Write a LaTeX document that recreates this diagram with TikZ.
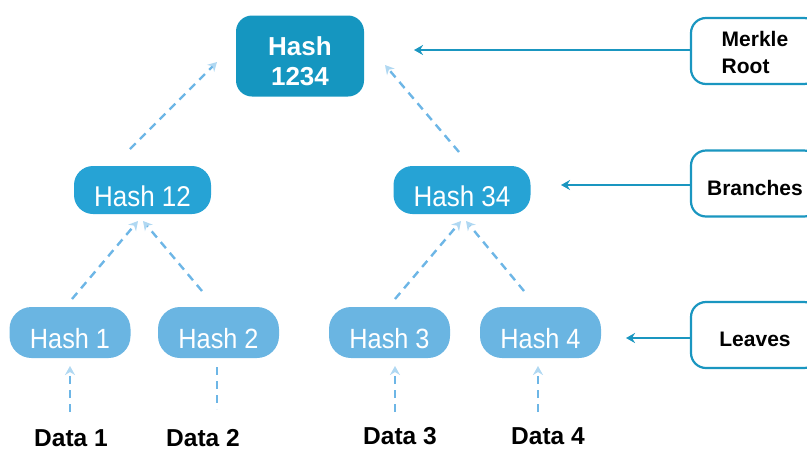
\documentclass[tikz,border=0pt]{standalone}
\usepackage{fontspec}
\setmainfont{Liberation Sans}
\usetikzlibrary{arrows.meta,calc}
\definecolor{rootc}{HTML}{1596C0}
\definecolor{midc}{HTML}{26A3D5}
\definecolor{leafc}{HTML}{6AB5E2}
\definecolor{dashc}{HTML}{6DB6E6}
\definecolor{headc}{HTML}{B0D8F2}
\definecolor{sidec}{HTML}{1A96C0}
\newcommand{\tallt}[1]{\scalebox{1}[1.1]{#1}}
\tikzset{
  rootbox/.style={fill=rootc, text=white, rounded corners=16pt, minimum width=128pt, minimum height=81pt, inner sep=0pt, font=\fontsize{26}{30.5}\selectfont\bfseries, align=center, text height=59.6pt, text depth=0pt},
  midbox/.style={fill=midc, text=white, rounded corners=19pt, minimum width=137pt, minimum height=48pt, inner sep=0pt, font=\fontsize{26}{30}\selectfont, text height=32.5pt, text depth=0pt},
  leafbox/.style={fill=leafc, text=white, rounded corners=22pt, minimum width=121pt, minimum height=51pt, inner sep=0pt, font=\fontsize{25.3}{30}\selectfont, text height=31.5pt, text depth=0pt},
  datatext/.style={font=\fontsize{24.5}{30}\selectfont\bfseries, inner sep=0pt},
  sidebox/.style={draw=sidec, line width=2.2pt, fill=white, rounded corners=15pt, minimum width=128pt, minimum height=66pt, inner sep=0pt, font=\fontsize{21}{27}\selectfont\bfseries},
  dasharrow/.style={draw=dashc, line width=2.4pt, dash pattern=on 8pt off 6pt, -{Stealth[length=9pt,width=10pt,color=headc]}},
  dashplain/.style={draw=dashc, line width=2.4pt, dash pattern=on 8pt off 6pt},
  sidearrow/.style={draw=sidec, line width=2.2pt, -{Stealth[length=9pt,width=10pt]}}
}
\begin{document}
\begin{tikzpicture}[x=1pt,y=-1pt]
\useasboundingbox (0,0) rectangle (807,451);
% tree nodes
\node[rootbox] (root) at (300,56) {Hash\\1234};
\node[midbox] (h12) at (142.5,190) {\tallt{Hash 12}};
\node[midbox] (h34) at (462,190) {\tallt{Hash 34}};
\node[leafbox] (h1) at (70,332.5) {\tallt{Hash 1}};
\node[leafbox] (h2) at (218.5,332.5) {\tallt{Hash 2}};
\node[leafbox] (h3) at (389.5,332.5) {\tallt{Hash 3}};
\node[leafbox] (h4) at (540.5,332.5) {\tallt{Hash 4}};
\node[datatext] (d1) at (71,438.5) {Data 1};
\node[datatext] (d2) at (203,438.5) {Data 2};
\node[datatext] (d3) at (400,436) {Data 3};
\node[datatext] (d4) at (548,436) {Data 4};
% side labels
\node[sidebox, align=left, text height=45pt, text depth=0pt] (mr) at (755,51) {Merkle\\Root};
\node[sidebox, text height=23pt, text depth=0pt] (br) at (755,183.5) {Branches};
\node[sidebox, text height=23pt, text depth=0pt] (lv) at (755,335) {Leaves};
% connector end points
\coordinate (r1s) at (130,149);
\coordinate (r1e) at (217,62);
\coordinate (r2s) at (459,152);
\coordinate (r2e) at (385,65);
\coordinate (a1s) at (72,299);
\coordinate (a1e) at (138,221);
\coordinate (a2s) at (202,291);
\coordinate (a2e) at (143,221);
\coordinate (a3s) at (395,299);
\coordinate (a3e) at (461,221);
\coordinate (a4s) at (524,291);
\coordinate (a4e) at (466,221);
\coordinate (b1s) at (70,412);
\coordinate (b1e) at (70,366);
\coordinate (b2s) at (217,367);
\coordinate (b2e) at (217,409);
\coordinate (b3s) at (395,412);
\coordinate (b3e) at (395,366);
\coordinate (b4s) at (538,412);
\coordinate (b4e) at (538,366);
\coordinate (mrt) at (414,50);
\coordinate (brt) at (561,185);
\coordinate (lvt) at (626,338);
% dashed arrows
\draw[dasharrow] (r1s) -- (r1e);
\draw[dasharrow] (r2s) -- (r2e);
\draw[dasharrow] (a1s) -- (a1e);
\draw[dasharrow] (a2s) -- (a2e);
\draw[dasharrow] (a3s) -- (a3e);
\draw[dasharrow] (a4s) -- (a4e);
\draw[dasharrow] (b1s) -- (b1e);
\draw[dashplain] (b2s) -- (b2e);
\draw[dasharrow] (b3s) -- (b3e);
\draw[dasharrow] (b4s) -- (b4e);
% side arrows
\draw[sidearrow] (mr.west |- mrt) -- (mrt);
\draw[sidearrow] (br.west |- brt) -- (brt);
\draw[sidearrow] (lv.west |- lvt) -- (lvt);
\end{tikzpicture}
\end{document}
